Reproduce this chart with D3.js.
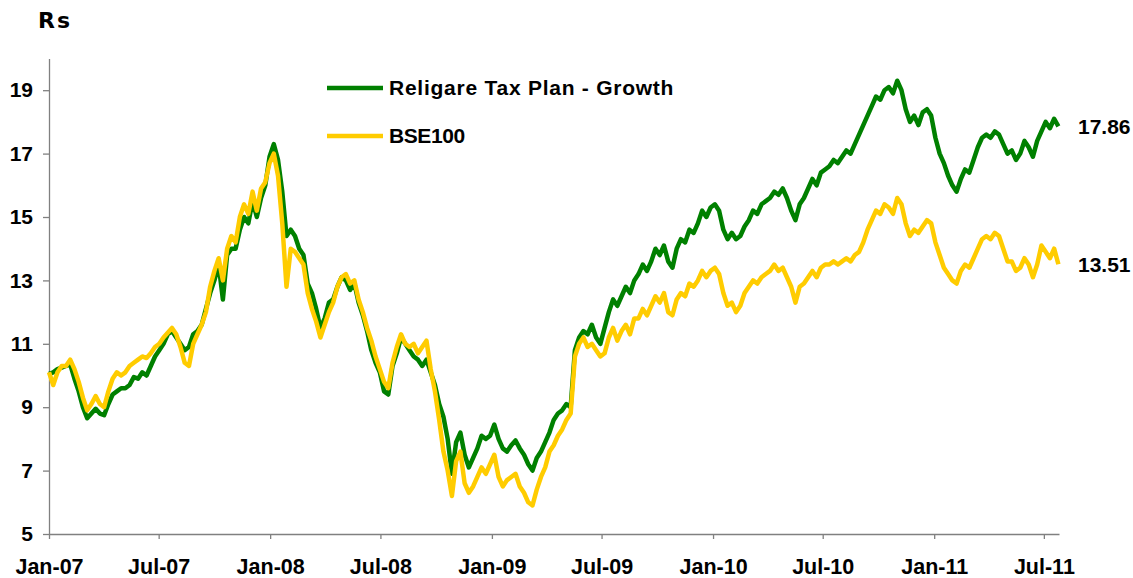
<!DOCTYPE html>
<html>
<head>
<meta charset="utf-8">
<script src="https://cdn.jsdelivr.net/npm/d3@7"></script>
<style>
  body { margin: 0; background: #fff; }
  text { font-family: "Liberation Sans", Arial, sans-serif; font-weight: bold; fill: #000; }
</style>
</head>
<body>
<div id="chart"></div>
<script>
// weekly NAV values, Jan-2007 .. Jul-2011
var startDate = new Date(2007, 0, 1)
var endDate = new Date(2011, 6, 26)

var religare = [
  10.05,10.1,10.2,10.25,10.3,10.35,9.9,9.5,9.0,8.65,
  8.8,8.95,8.8,8.75,9.1,9.4,9.5,9.6,9.6,9.7,
  9.95,9.9,10.1,10.0,10.3,10.6,10.8,11.0,11.3,11.4,
  11.2,11.0,10.8,10.9,11.3,11.4,11.6,12.1,12.6,13.0,
  13.5,12.4,13.8,14.0,14.0,14.6,15.0,14.8,15.5,15.0,
  15.6,16.0,16.9,17.3,16.8,15.8,14.4,14.6,14.4,14.0,
  13.8,12.9,12.6,12.1,11.5,11.8,12.3,12.4,12.8,13.1,
  13.0,12.7,12.9,12.3,11.9,11.4,10.8,10.4,10.1,9.5,
  9.4,10.3,10.7,11.2,11.0,10.8,10.6,10.5,10.3,10.5,
  10.1,9.7,9.1,8.7,8.0,6.9,7.9,8.2,7.5,7.1,
  7.4,7.7,8.1,8.0,8.1,8.45,8.0,7.7,7.6,7.8,
  7.95,7.7,7.5,7.2,7.0,7.4,7.6,7.9,8.2,8.6,
  8.8,8.9,9.1,9.0,10.8,11.2,11.4,11.3,11.6,11.2,
  11.0,11.5,12.0,12.4,12.2,12.5,12.8,12.6,13.0,13.2,
  13.5,13.3,13.6,14.0,13.8,14.1,13.6,13.4,14.0,14.3,
  14.2,14.6,14.5,14.8,15.2,15.0,15.3,15.4,15.2,14.6,
  14.3,14.5,14.3,14.4,14.7,14.9,15.2,15.1,15.4,15.5,
  15.6,15.8,15.7,15.9,15.6,15.2,14.9,15.4,15.6,15.9,
  16.2,16.0,16.4,16.5,16.6,16.8,16.7,16.9,17.1,17.0,
  17.3,17.6,17.9,18.2,18.5,18.8,18.7,19.0,19.1,18.9,
  19.3,19.0,18.4,18.0,18.2,17.9,18.3,18.4,18.2,17.5,
  17.0,16.7,16.3,16.0,15.8,16.2,16.5,16.4,16.8,17.2,
  17.5,17.6,17.5,17.7,17.6,17.3,17.0,17.1,16.8,17.0,
  17.4,17.2,16.9,17.4,17.7,18.0,17.8,18.1,17.86
]

var bse100 = [
  10.1,9.7,10.1,10.3,10.3,10.5,10.2,9.8,9.3,8.9,
  9.1,9.35,9.1,9.0,9.5,9.9,10.1,10.0,10.1,10.3,
  10.4,10.5,10.6,10.55,10.7,10.9,11.0,11.2,11.35,11.5,
  11.3,10.9,10.4,10.3,11.0,11.3,11.6,12.0,12.8,13.3,
  13.7,13.0,14.0,14.4,14.2,15.0,15.4,15.1,15.8,15.2,
  15.9,16.1,16.7,17.0,16.3,14.8,12.8,14.0,13.9,13.7,
  13.5,12.6,12.1,11.7,11.2,11.6,12.0,12.3,12.8,13.1,
  13.2,12.9,13.0,12.4,12.0,11.5,11.1,10.6,10.2,9.8,
  9.6,10.4,10.9,11.3,11.0,10.9,11.0,10.7,10.9,11.1,
  10.2,9.5,8.6,7.6,7.0,6.2,7.3,7.6,6.6,6.3,
  6.5,6.8,7.1,6.9,7.2,7.5,6.8,6.5,6.7,6.8,
  6.9,6.5,6.3,6.0,5.9,6.4,6.8,7.1,7.6,7.8,
  8.1,8.3,8.6,8.8,10.6,11.0,11.2,10.9,11.0,10.8,
  10.6,10.7,11.2,11.5,11.1,11.4,11.6,11.3,11.8,11.8,
  12.1,11.9,12.2,12.5,12.3,12.6,12.0,11.9,12.4,12.6,
  12.5,12.9,12.8,13.0,13.3,13.1,13.3,13.4,13.2,12.6,
  12.2,12.3,12.0,12.2,12.6,12.8,13.0,12.9,13.1,13.2,
  13.3,13.5,13.3,13.4,13.1,12.8,12.3,12.8,12.9,13.1,
  13.3,13.1,13.4,13.5,13.5,13.6,13.5,13.6,13.7,13.6,
  13.8,13.9,14.2,14.6,14.9,15.2,15.1,15.4,15.3,15.1,
  15.6,15.4,14.8,14.4,14.6,14.5,14.7,14.9,14.8,14.2,
  13.8,13.4,13.2,13.0,12.9,13.3,13.5,13.4,13.7,14.0,
  14.3,14.4,14.3,14.5,14.4,14.0,13.6,13.6,13.3,13.4,
  13.7,13.5,13.1,13.5,14.1,13.9,13.7,14.0,13.51
]

var yTicks = [5, 7, 9, 11, 13, 15, 17, 19]
var seriesNames = ["Religare Tax Plan - Growth", "BSE100"]
var seriesColors = ["#008000", "#FFCC00"]

var width = 1133, height = 578

var svg = d3.select("#chart")
  .append("svg")
    .attr("width", width)
    .attr("height", height)

// one date per week
var dates = religare.map((d, i) => d3.timeDay.offset(startDate, 7 * i))

var x = d3.scaleTime().domain([startDate, endDate]).range([49, 1059])
var y = d3.scaleLinear().domain([5, 20]).range([534, 58.5])

// axes
var xAxis = svg.append("g")
  .attr("transform", "translate(0,534)")
  .call(d3.axisBottom(x).ticks(d3.timeMonth.every(6)).tickFormat(d3.timeFormat("%b-%y")).tickSize(5).tickSizeOuter(0))
xAxis.selectAll("text").attr("y", 25).style("font-size", "21.5px")

var yAxis = svg.append("g")
  .attr("transform", "translate(49,0)")
  .call(d3.axisLeft(y).tickValues(yTicks).tickSize(6).tickSizeOuter(0).tickPadding(10))
yAxis.selectAll("text").style("font-size", "21px")

svg.selectAll(".domain, .tick line").attr("stroke", "#808080").attr("stroke-width", 1.3)

// lines
var line = d3.line()
  .x((d, i) => x(dates[i]))
  .y(d => y(d))

;[religare, bse100].forEach(function (vals, k) {
  svg.append("path")
    .datum(vals)
    .attr("fill", "none")
    .attr("stroke", seriesColors[k])
    .attr("stroke-width", 4.5)
    .attr("stroke-linejoin", "round")
    .attr("d", line)

  // end value label
  svg.append("text")
    .attr("x", 1078)
    .attr("y", y(vals[vals.length - 1]))
    .attr("dy", "0.35em")
    .style("font-size", "21px")
    .text(vals[vals.length - 1].toFixed(2))
})

// legend
seriesNames.forEach(function (name, k) {
  var ly = 88 + k * 48
  svg.append("line")
    .attr("x1", 327).attr("x2", 383)
    .attr("y1", ly).attr("y2", ly)
    .attr("stroke", seriesColors[k])
    .attr("stroke-width", 4.5)
  svg.append("text")
    .attr("x", 389)
    .attr("y", ly)
    .attr("dy", "0.35em")
    .style("font-size", "21px")
    .style("letter-spacing", k == 0 ? "0.75px" : "-0.4px")
    .text(name)
})

// unit title
svg.append("text")
  .attr("x", 38)
  .attr("y", 28)
  .style("font-family", "'DejaVu Sans', sans-serif")
  .style("font-size", "22px")
  .style("letter-spacing", "2px")
  .text("Rs")
</script>
</body>
</html>
